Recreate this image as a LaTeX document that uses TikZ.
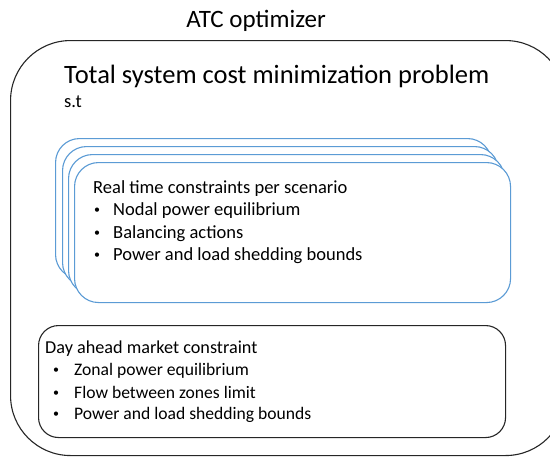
\documentclass[tikz,border=0pt]{standalone}
\usepackage{fontspec}
\setmainfont{Carlito}
\definecolor{rtblue}{HTML}{5B9BD5}
\tikzset{
  panel/.style={draw, fill=white, line width=1.1pt, rectangle, anchor=north west, inner sep=0pt},
  outerbox/.style={panel, draw=black!85, rounded corners=60pt},
  rtbox/.style={panel, draw=rtblue, rounded corners=24pt, minimum width=436pt, minimum height=140pt},
  dabox/.style={panel, draw=black!85, rounded corners=20pt, minimum width=467pt, minimum height=112pt},
  txt/.style={inner sep=0pt, anchor=base west, font=\fontsize{18.5}{22}\selectfont},
  datxt/.style={txt, font=\fontsize{17.6}{22}\selectfont},
  blt/.style={inner sep=0pt, anchor=base, font=\fontsize{12}{14}\selectfont},
}
\newcommand{\bdot}{\raisebox{1.8pt}{•}}
\begin{document}
\begin{tikzpicture}[x=1pt,y=-1pt]
\useasboundingbox (0,0) rectangle (550,458);

% title
\node[inner sep=0pt, anchor=base, font=\fontsize{25}{30}\selectfont] (title) at (256,27) {ATC optimizer};

% enclosing optimisation box (runs past the right edge)
\begin{scope}
\clip (0,0) rectangle (550,458);
\node[outerbox, minimum width=555pt, minimum height=415pt] (outer) at (10,40) {};
\end{scope}

\node[inner sep=0pt, anchor=base west, font=\fontsize{26.5}{32}\selectfont] (obj) at (64,83) {Total system cost minimization problem};
\node[txt] (st) at (64,107) {s.t};

% stacked real-time scenario boxes
\node[rtbox] (rt1) at (55,138) {};
\node[rtbox] (rt2) at (62,146) {};
\node[rtbox] (rt3) at (68,154) {};
\node[rtbox] (rt4) at (74,162) {};

\node[txt] (rth) at (93,193) {Real time constraints per scenario};
\node[blt] (rb1) at (97,215) {\bdot};
\node[txt] (rt1t) at (113,215) {Nodal power equilibrium};
\node[blt] (rb2) at (97,238) {\bdot};
\node[txt] (rt2t) at (113,238) {Balancing actions};
\node[blt] (rb3) at (97,260) {\bdot};
\node[txt] (rt3t) at (113,260) {Power and load shedding bounds};

% day-ahead market box
\node[dabox] (da) at (38,325) {};
\node[txt, font=\fontsize{18.2}{22}\selectfont] (dah) at (45,353) {Day ahead market constraint};
\node[blt] (db1) at (56,375) {\bdot};
\node[datxt] (da1) at (74,375) {Zonal power equilibrium};
\node[blt] (db2) at (56,398) {\bdot};
\node[datxt] (da2) at (74,398) {Flow between zones limit};
\node[blt] (db3) at (56,419) {\bdot};
\node[datxt] (da3) at (74,419) {Power and load shedding bounds};
\end{tikzpicture}
\end{document}
